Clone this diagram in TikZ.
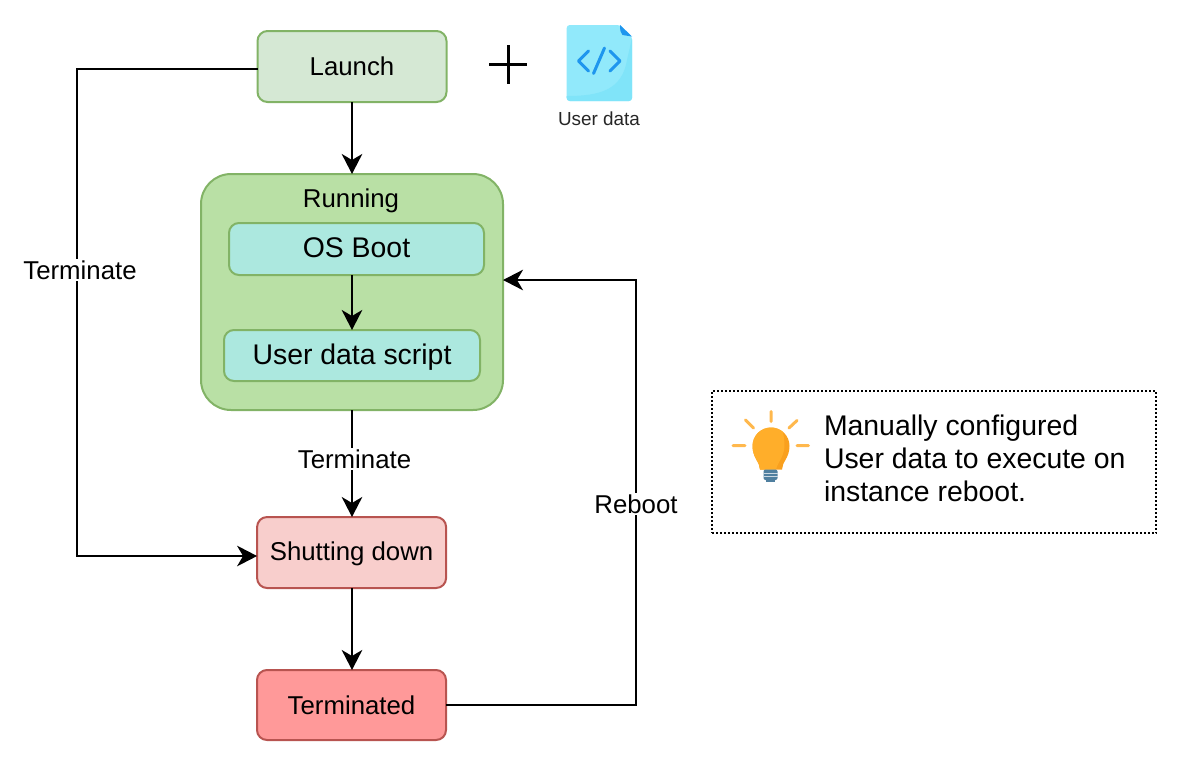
\documentclass[tikz,border=0pt]{standalone}
\usepackage{fontspec}
\setmainfont{Liberation Sans}
\usetikzlibrary{arrows.meta}
\definecolor{grnfill}{HTML}{D5E8D4}
\definecolor{grnline}{HTML}{82B366}
\definecolor{runfill}{HTML}{B9E0A5}
\definecolor{tealfill}{HTML}{ACE8DF}
\definecolor{redfill}{HTML}{F8CECC}
\definecolor{redline}{HTML}{B85450}
\definecolor{termfill}{HTML}{FF9999}
\definecolor{doclight}{HTML}{91E9FB}
\definecolor{docdark}{HTML}{80E4F9}
\definecolor{docblue}{HTML}{1E96EE}
\definecolor{bulbfill}{HTML}{FFAE2A}
\definecolor{bulbdark}{HTML}{F9A01E}
\definecolor{rayfill}{HTML}{FFB84D}
\definecolor{capfill}{HTML}{4F7F9F}
\newcommand{\bigfont}{\fontsize{25.8pt}{33pt}\selectfont}
\newcommand{\largefont}{\fontsize{28.4pt}{33pt}\selectfont}
\tikzset{
  x=1pt,y=-1pt,
  every node/.style={inner sep=0pt,outer sep=0pt,font=\bigfont,text=black},
  statebox/.style={draw,line width=2pt,rounded corners=10pt,anchor=center,text height=20pt,text depth=4pt},
  lowertext/.style={text height=22pt,text depth=4pt},
  flow/.style={draw=black,line width=2.4pt,-{Stealth[length=20pt,width=20.5pt,inset=6pt]}},
  edgelabel/.style={fill=white,inner xsep=1pt,inner ysep=1pt,text height=19pt,text depth=1pt},
}
\begin{document}
\begin{tikzpicture}
\useasboundingbox (0,0) rectangle (1186,780);
% nodes
\node[statebox,lowertext,draw=grnline,fill=grnfill,minimum width=189pt,minimum height=71pt] (launch) at (352,66.5) {Launch};
\node[draw=grnline,fill=runfill,line width=2pt,rounded corners=30pt,minimum width=302pt,minimum height=236pt] (running) at (352,292) {};
\node[text height=18pt,text depth=5pt] (runlabel) at (351,201) {Running};
\node[statebox,draw=grnline,fill=tealfill,font=\largefont,minimum width=255pt,minimum height=52pt] (boot) at (356.5,249) {OS Boot};
\node[statebox,lowertext,draw=grnline,fill=tealfill,font=\largefont,minimum width=256pt,minimum height=51pt] (script) at (352,355.5) {User data script};
\node[statebox,draw=redline,fill=redfill,minimum width=189pt,minimum height=71pt] (shutting) at (351.6,552.5) {Shutting down};
\node[statebox,lowertext,draw=redline,fill=termfill,minimum width=189pt,minimum height=70pt] (terminated) at (351.5,705) {Terminated};
\node[draw=black,line width=2pt,dash pattern=on 2pt off 2pt,minimum width=444.5pt,minimum height=142pt] (note) at (934.2,462) {};
\node[anchor=north west,align=left,font=\largefont] (notetext) at (824,415) {Manually configured\\User data to execute on\\instance reboot.};
% connector helpers
\coordinate (lefttop) at (77,69);
\coordinate (leftbot) at (77,556);
\coordinate (launchw) at (launch.west |- lefttop);
\coordinate (shutw) at (shutting.west |- leftbot);
\coordinate (rbturn) at (636,280);
\coordinate (runx) at (352,0);
% connectors
\draw[flow] (launch.south -| runx) -- (running.north -| runx);
\draw[flow] (boot.south -| runx) -- (script.north -| runx);
\draw[flow] (running.south -| runx) -- (shutting.north -| runx);
\draw[flow] (shutting.south -| runx) -- (terminated.north -| runx);
\draw[flow] (launchw) -- (lefttop) -- (leftbot) -- (shutw);
\draw[flow] (terminated.east) -| (rbturn) -- (rbturn -| running.east);
% connector labels
\node[edgelabel] (lblleft) at (80,270) {Terminate};
\node[edgelabel] (lblmid) at (354.5,459) {Terminate};
\node[edgelabel] (lblreboot) at (636,504) {Reboot};
% plus sign
\draw[line width=2.4pt,black] (489,64.5) -- (527,64.5) (508.3,45) -- (508.3,83.5);
% user data icon
\fill[doclight,rounded corners=3pt] (566.7,101) -- (566.7,25) -- (620,25) -- (632,36.5) -- (632,101) -- cycle;
\begin{scope}
\clip[rounded corners=3pt] (566.7,101) -- (566.7,25) -- (620,25) -- (632,36.5) -- (632,101) -- cycle;
\fill[docdark] (560,105) -- (560,96) -- (566.7,96) .. controls (600,96) and (622,90) .. (627,60) -- (632,38) -- (640,38) -- (640,105) -- cycle;
\end{scope}
\fill[docblue] (620,25) -- (632,36.5) -- (622.5,35) .. controls (620.5,33) and (620,30) .. (620,25) -- cycle;
\draw[docblue,line width=3pt,line cap=round,line join=round] (588.5,51) -- (578.5,61) -- (588.5,71);
\draw[docblue,line width=3pt,line cap=round,line join=round] (610,51) -- (620,61) -- (610,71);
\draw[docblue,line width=3pt,line cap=round] (604.5,48) -- (593.5,73.5);
\node[font=\fontsize{18.9pt}{22pt}\selectfont,text=black!85] (icontext) at (599,118.5) {User data};
% light bulb
\draw[rayfill,line width=3pt,line cap=round] (771,411.5) -- (771,421.5) (733,445.7) -- (745,445.7) (797,445.7) -- (808.5,445.7) (745.5,420) -- (753.5,428) (797,420.5) -- (789,428);
\fill[bulbdark] (760,469.5) .. controls (760,462) and (752.5,458) .. (752.5,446) arc[start angle=180,end angle=360,radius=18.5] .. controls (789.5,458) and (782,462) .. (782,469.5) -- cycle;
\fill[bulbfill] (760,469.5) .. controls (760,462) and (752.5,458) .. (752.5,446) arc[start angle=180,end angle=310,radius=18.5] .. controls (788,456) and (779,458) .. (776,469.5) -- cycle;
\fill[capfill,rounded corners=2pt] (763.5,469.5) rectangle (777.5,480);
\fill[capfill] (766,478) rectangle (775,482);
\draw[white!70!capfill,line width=0.7pt] (763.5,473) -- (777.5,473) (763.5,476.5) -- (777.5,476.5);
\end{tikzpicture}
\end{document}
